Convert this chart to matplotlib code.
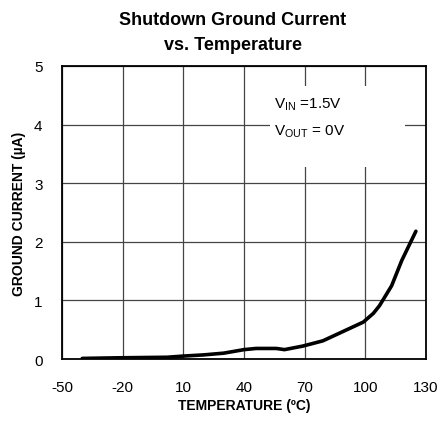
import matplotlib
matplotlib.use("Agg")
import matplotlib.pyplot as plt
from matplotlib.patches import Rectangle

plt.rcParams['font.family'] = ['Liberation Sans', 'DejaVu Sans']
plt.rcParams['mathtext.fontset'] = 'custom'
plt.rcParams['mathtext.rm'] = 'Liberation Sans'
plt.rcParams['axes.unicode_minus'] = False

# curva
temp = [-40, -23, 2, 10, 20, 30, 40, 46, 56, 60, 69, 79, 89, 99, 104, 107, 113, 118, 125]
corriente = [0.01, 0.02, 0.03, 0.05, 0.07, 0.10, 0.16, 0.18, 0.18, 0.16, 0.22, 0.31, 0.47, 0.63, 0.78, 0.91, 1.25, 1.68, 2.18]

xticks = [-50, -20, 10, 40, 70, 100, 130]
yticks = [0, 1, 2, 3, 4, 5]

fig = plt.figure(figsize=(4.41, 4.35), dpi=100)
ax = fig.add_axes([0.1406, 0.1724, 0.8254, 0.6736])

ax.plot(temp, corriente, color="black", lw=2.6, solid_capstyle="round", zorder=4)

ax.set_xlim(-50, 130)
ax.set_ylim(0, 5)
ax.set_xticks(xticks)
ax.set_yticks(yticks)
ax.tick_params(length=0, labelsize=11)
ax.tick_params(axis="x", pad=15)
ax.tick_params(axis="y", pad=14)
ax.grid(True, color="#444444", lw=0.9)
ax.set_axisbelow(True)
for s in ax.spines.values():
    s.set_linewidth(1.3)

# caja blanca bajo la anotacion
ax.add_patch(Rectangle((52.9, 3.28), 66.7, 1.38, facecolor="white", edgecolor="none", zorder=2))
ax.text(55.0, 4.35, r"V$_{\mathrm{IN}}$ =1.5V", fontsize=11, va="center", ha="left", zorder=3)
ax.text(55.0, 3.89, r"V$_{\mathrm{OUT}}$ = 0V", fontsize=11, va="center", ha="left", zorder=3)

ax.set_xlabel("TEMPERATURE (ºC)", fontsize=10, fontweight="bold", labelpad=3)
ax.set_ylabel("GROUND CURRENT (µA)", fontsize=10, fontweight="bold", labelpad=6)

fig.text(0.528, 0.972, "Shutdown Ground Current\nvs. Temperature", ha="center", va="top",
         fontsize=13, fontweight="bold", linespacing=1.6)

fig.savefig("out.png", dpi=100)
